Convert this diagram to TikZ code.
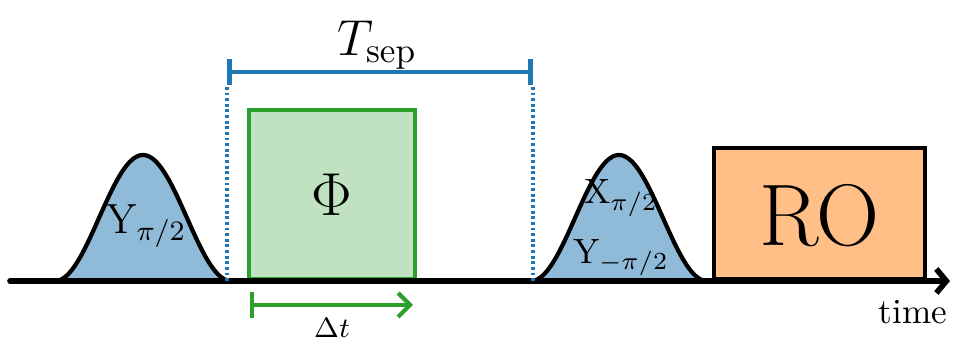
\documentclass[tikz,border=0pt]{standalone}
\usepackage{amsmath, amssymb}
\usepackage{xcolor}
\usepackage{tikz}
\usetikzlibrary{positioning, arrows.meta, calc}
\definecolor{tabblue}{RGB}{31, 119, 180}
\definecolor{tabgreen}{RGB}{44, 160, 44}
\definecolor{taborange}{RGB}{255, 127, 14}

\begin{document}
\begin{tikzpicture}[
  pulse/.style={fill=tabblue!50, draw=black, line width=1.2pt},
  box/.style={rectangle, line width=1pt, anchor=south west, inner sep=0pt},
  axisline/.style={line width=1.6pt, line cap=round, -{Straight Barb[length=1mm, width=2.4mm]}},
  span/.style={line width=1.3pt, {Bar[width=2.6mm]}-{Bar[width=2.6mm]}},
  guide/.style={tabblue, line width=1pt, dash pattern=on 0.8pt off 0.8pt},
]
  \useasboundingbox (0,0) rectangle (9.58,3.38);

  % Pulses
  \filldraw[pulse] plot[domain=-0.88:0.88, samples=80, smooth] ({1.43+\x},{0.57+0.63*(1+cos(\x/0.88*180))}) -- cycle;
  \filldraw[pulse] plot[domain=-0.88:0.88, samples=80, smooth] ({6.19+\x},{0.57+0.63*(1+cos(\x/0.88*180))}) -- cycle;
  \node[font=\large] (ypulse) at (1.46,1.12) {$\mathrm{Y}_{\pi/2}$};
  \node[align=center] (xypulse) at (6.21,1.10) {$\mathrm{X}_{\pi/2}$\\[5pt]$\mathrm{Y}_{-\pi/2}$};

  % Phase and readout boxes
  \node[box, draw=tabgreen, fill=tabgreen!30, minimum width=1.66cm, minimum height=1.69cm] (phi) at (2.47,0.57) {};
  \node[font=\LARGE] (philabel) at (phi.center) {$\Phi$};
  \node[box, draw=black, fill=taborange!50, minimum width=2.11cm, minimum height=1.31cm] (ro) at (7.12,0.57) {};
  \node[font=\Huge] (rolabel) at ($(ro.center)+(0,-0.02)$) {RO};

  % Time axis
  \coordinate (tstart) at (0.10,0.57);
  \coordinate (tend) at (9.50,0.57);
  \draw[axisline] (tstart) -- (tend);
  \node[anchor=base east, inner sep=0pt] (time) at (9.48,0.14) {time};

  % Separation
  \coordinate (sepL) at (2.27,2.66);
  \coordinate (sepR) at (5.33,2.66);
  \draw[span, tabblue] (sepL) -- (sepR);
  \draw[guide] ($(sepL)+(0,-0.15)$) -- (sepL |- tstart);
  \draw[guide] ($(sepR)+(0,-0.15)$) -- (sepR |- tstart);
  \node[font=\Large] (tsep) at (3.77,2.93) {$T_\mathrm{sep}$};

  % Duration
  \coordinate (dtL) at (2.50,0.33);
  \coordinate (dtR) at (4.13,0.33);
  \draw[tabgreen, line width=1.2pt, {Bar[width=2.6mm]}-{Straight Barb[length=1.2mm, width=2.4mm]}] (dtL) -- (dtR);
  \node[font=\footnotesize] (dt) at (3.32,0.10) {$\Delta t$};

\end{tikzpicture}
\end{document}
